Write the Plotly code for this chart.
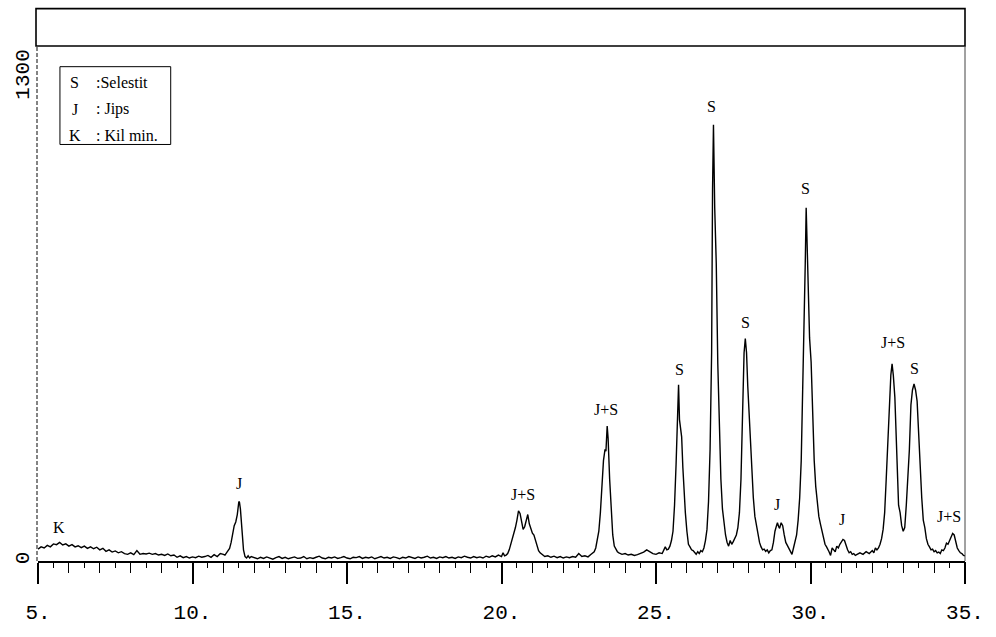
import plotly.graph_objects as go

# ---------------- data (2-theta, counts) ----------------
scan_05_11 = [
    (5.0, 32), (5.1, 38), (5.2, 35), (5.3, 42), (5.4, 38), (5.5, 46), (5.6, 44), (5.7, 50),
    (5.8, 43), (5.9, 46), (6.0, 40), (6.1, 44), (6.2, 38), (6.3, 41), (6.4, 36), (6.5, 40),
    (6.6, 34), (6.7, 38), (6.8, 33), (6.9, 37), (7.0, 30), (7.1, 34), (7.2, 26), (7.3, 30),
    (7.4, 24), (7.5, 27), (7.6, 22), (7.7, 25), (7.8, 20), (7.9, 18), (8.0, 22), (8.1, 17),
    (8.2, 28), (8.3, 18), (8.4, 20), (8.5, 19), (8.6, 21), (8.7, 18), (8.8, 20), (8.9, 16),
    (9.0, 18), (9.1, 15), (9.2, 19), (9.3, 14), (9.4, 16), (9.5, 10), (9.6, 14), (9.7, 9),
    (9.8, 12), (9.9, 8), (10.0, 11), (10.1, 9), (10.2, 13), (10.3, 10), (10.4, 12), (10.5, 15),
    (10.6, 10), (10.7, 17), (10.8, 12), (10.9, 20), (11.0, 18),
]
scan_11_12 = [
    (11.05, 16), (11.1, 22), (11.15, 28), (11.2, 34), (11.25, 50), (11.3, 72), (11.35, 95),
    (11.4, 105), (11.45, 125), (11.5, 160), (11.52, 158), (11.55, 140), (11.6, 90), (11.65, 30),
    (11.7, 12), (11.75, 8), (11.8, 14), (11.85, 8), (11.9, 12),
]
scan_12_20 = [
    (12.0, 9), (12.1, 6), (12.2, 10), (12.3, 7), (12.4, 11), (12.5, 8), (12.6, 5), (12.7, 9),
    (12.8, 12), (12.9, 7), (13.0, 10), (13.1, 6), (13.2, 9), (13.3, 11), (13.4, 7), (13.5, 8),
    (13.6, 12), (13.7, 6), (13.8, 9), (13.9, 7), (14.0, 10), (14.1, 13), (14.2, 8), (14.3, 6),
    (14.4, 10), (14.5, 8), (14.6, 11), (14.7, 7), (14.8, 9), (14.9, 12), (15.0, 8), (15.1, 6),
    (15.2, 10), (15.3, 9), (15.4, 12), (15.5, 7), (15.6, 10), (15.7, 8), (15.8, 11), (15.9, 6),
    (16.0, 9), (16.1, 12), (16.2, 8), (16.3, 10), (16.4, 7), (16.5, 11), (16.6, 9), (16.7, 6),
    (16.8, 10), (16.9, 8), (17.0, 12), (17.1, 9), (17.2, 7), (17.3, 11), (17.4, 8), (17.5, 10),
    (17.6, 13), (17.7, 8), (17.8, 10), (17.9, 7), (18.0, 11), (18.1, 9), (18.2, 12), (18.3, 8),
    (18.4, 10), (18.5, 7), (18.6, 11), (18.7, 9), (18.8, 13), (18.9, 10), (19.0, 8), (19.1, 12),
    (19.2, 9), (19.3, 11), (19.4, 8), (19.5, 13), (19.6, 10), (19.7, 14), (19.8, 11), (19.9, 16),
    (20.0, 12),
]
scan_20_23 = [
    (20.05, 22), (20.1, 14), (20.15, 16), (20.2, 20), (20.25, 30), (20.3, 45), (20.35, 55),
    (20.4, 70), (20.45, 90), (20.5, 110), (20.55, 135), (20.6, 128), (20.65, 100), (20.7, 85),
    (20.75, 92), (20.8, 110), (20.85, 125), (20.9, 100), (20.95, 85), (21.0, 75), (21.05, 70),
    (21.1, 55), (21.15, 38), (21.2, 28), (21.25, 22), (21.3, 18), (21.35, 15), (21.4, 12),
    (21.5, 14), (21.6, 10), (21.7, 13), (21.8, 9), (21.9, 12), (22.0, 8), (22.1, 11), (22.2, 9),
    (22.3, 12), (22.4, 10), (22.5, 20), (22.6, 12), (22.7, 14), (22.8, 11), (22.9, 18), (23.0, 25),
]
scan_23_26 = [
    (23.05, 35), (23.1, 55), (23.15, 80), (23.2, 130), (23.25, 200), (23.3, 270), (23.35, 300),
    (23.38, 295), (23.42, 363), (23.45, 330), (23.5, 220), (23.55, 130), (23.6, 70), (23.65, 40),
    (23.7, 30), (23.75, 25), (23.8, 22), (23.9, 18), (24.0, 20), (24.1, 16), (24.2, 18),
    (24.3, 15), (24.4, 17), (24.5, 20), (24.6, 24), (24.7, 30), (24.8, 25), (24.9, 20),
    (25.0, 18), (25.1, 22), (25.2, 20), (25.25, 28), (25.3, 38), (25.35, 30), (25.4, 32),
    (25.45, 40), (25.5, 55), (25.55, 80), (25.6, 150), (25.65, 260), (25.7, 400), (25.73, 474),
    (25.76, 380), (25.8, 340), (25.83, 334), (25.87, 250), (25.9, 190), (25.95, 130),
    (26.0, 80), (26.05, 45), (26.1, 38), (26.15, 30), (26.2, 28), (26.25, 22), (26.3, 18),
    (26.35, 25), (26.4, 20), (26.45, 28),
]
scan_26_29 = [
    (26.5, 25), (26.55, 35), (26.6, 55), (26.65, 85), (26.7, 160), (26.75, 300), (26.8, 560),
    (26.83, 1000), (26.86, 1173), (26.9, 950), (26.95, 800), (27.0, 530), (27.05, 330),
    (27.1, 220), (27.15, 140), (27.2, 100), (27.25, 70), (27.3, 50), (27.35, 40), (27.4, 55),
    (27.45, 45), (27.5, 52), (27.55, 60), (27.6, 70), (27.65, 90), (27.7, 130), (27.75, 220),
    (27.8, 420), (27.85, 560), (27.89, 598), (27.93, 560), (27.97, 470), (28.0, 420),
    (28.05, 320), (28.1, 240), (28.15, 170), (28.2, 120), (28.25, 95), (28.3, 70), (28.35, 50),
    (28.4, 38), (28.45, 30), (28.5, 32), (28.55, 26), (28.6, 30), (28.65, 22), (28.7, 28),
    (28.75, 30), (28.8, 50), (28.85, 80), (28.9, 95), (28.93, 103), (28.97, 92), (29.0, 88),
    (29.05, 103), (29.1, 95), (29.15, 70), (29.2, 50), (29.25, 42), (29.3, 35), (29.35, 28),
    (29.4, 18), (29.45, 35),
]
scan_29_32 = [
    (29.5, 50), (29.55, 70), (29.6, 110), (29.65, 170), (29.7, 270), (29.75, 450), (29.8, 680),
    (29.83, 800), (29.86, 950), (29.89, 840), (29.93, 700), (29.97, 600), (30.02, 535),
    (30.07, 400), (30.12, 270), (30.17, 200), (30.22, 150), (30.27, 120), (30.32, 100),
    (30.37, 80), (30.42, 60), (30.47, 45), (30.52, 38), (30.57, 32), (30.6, 25), (30.65, 15),
    (30.7, 35), (30.75, 30), (30.8, 25), (30.85, 40), (30.9, 35), (30.95, 45), (31.0, 50),
    (31.05, 58), (31.1, 55), (31.15, 40), (31.2, 30), (31.25, 22), (31.3, 25), (31.35, 18),
    (31.4, 20), (31.45, 15), (31.5, 18), (31.6, 22), (31.7, 18), (31.8, 25), (31.9, 20),
    (32.0, 28), (32.05, 22), (32.1, 35), (32.15, 30),
]
scan_32_35 = [
    (32.2, 35), (32.25, 45), (32.3, 60), (32.35, 85), (32.4, 130), (32.45, 220), (32.5, 320),
    (32.55, 420), (32.6, 500), (32.64, 530), (32.68, 500), (32.73, 440), (32.77, 340),
    (32.8, 270), (32.85, 150), (32.9, 130), (32.95, 95), (33.0, 80), (33.05, 90), (33.1, 150),
    (33.15, 230), (33.2, 300), (33.25, 420), (33.3, 460), (33.35, 476), (33.4, 460),
    (33.45, 430), (33.5, 330), (33.55, 260), (33.6, 170), (33.65, 110), (33.7, 90), (33.75, 60),
    (33.8, 45), (33.85, 38), (33.9, 30), (33.95, 32), (34.0, 25), (34.05, 28), (34.1, 22),
    (34.15, 24), (34.2, 20), (34.25, 30), (34.3, 28), (34.35, 35), (34.4, 48), (34.45, 45),
    (34.5, 55), (34.55, 62), (34.6, 74), (34.65, 70), (34.7, 50), (34.75, 35), (34.8, 28),
    (34.85, 22), (34.9, 20), (34.95, 15), (35.0, 14),
]

peak_labels = [
    (5.68, 90, "K"), (11.52, 209, "J"), (20.69, 180, "J+S"), (23.37, 408, "J+S"),
    (25.76, 514, "S"), (26.80, 1223, "S"), (27.89, 641, "S"), (28.93, 151, "J"),
    (29.83, 1001, "S"), (31.03, 111, "J"), (32.67, 588, "J+S"), (33.35, 519, "S"),
    (34.48, 119, "J+S"),
]

legend_symbols = ["S", "J", "K"]
legend_names = [":Selestit", ": Jips", ": Kil min."]

x_major_ticks = [5, 10, 15, 20, 25, 30, 35]
x_major_text = ["5.", "10.", "15.", "20.", "25.", "30.", "35."]
y_ticks = [0, 1300]
y_tick_text = ["0", "1300"]

# ---------------- figure ----------------
scan = scan_05_11 + scan_11_12 + scan_12_20 + scan_20_23 + scan_23_26 + scan_26_29 + scan_29_32 + scan_32_35
two_theta = [p[0] for p in scan]
counts = [p[1] for p in scan]

fig = go.Figure()
fig.add_trace(go.Scatter(x=two_theta, y=counts, mode="lines",
                         line=dict(color="black", width=1.4), hoverinfo="skip",
                         showlegend=False))
# helper trace for the integer tick axis
fig.add_trace(go.Scatter(x=[5, 35], y=[0, 0], xaxis="x2", mode="lines",
                         line=dict(color="rgba(0,0,0,0)"), hoverinfo="skip",
                         showlegend=False))

W, H = 996, 637
ML, MR, MT, MB = 37, 30, 46, 68
pw, ph = W - ML - MR, H - MT - MB

def px(xp):
    return (xp - ML) / pw

def py(yp):
    return (H - MB - yp) / ph

mono = "Liberation Mono"
serif = "Liberation Serif"

fig.update_layout(
    width=W, height=H, margin=dict(l=ML, r=MR, t=MT, b=MB),
    paper_bgcolor="white", plot_bgcolor="white",
    xaxis=dict(range=[5, 35], tickmode="array", tickvals=x_major_ticks, ticktext=x_major_text,
               ticks="outside", ticklen=21, tickwidth=1.5, tickcolor="black",
               showline=True, linecolor="black", linewidth=1.6, showgrid=False, zeroline=False,
               tickfont=dict(family=mono, size=21, color="black"), ticklabelstandoff=10,
               minor=dict(tickmode="linear", tick0=5, dtick=0.5, ticks="outside", ticklen=5,
                          tickwidth=1, tickcolor="black", showgrid=False)),
    xaxis2=dict(range=[5, 35], overlaying="x", anchor="y", side="bottom", tickmode="linear",
                tick0=5, dtick=1, ticks="outside", ticklen=11, tickwidth=1.2, tickcolor="black",
                showticklabels=False, showline=False, showgrid=False, zeroline=False),
    yaxis=dict(range=[0, 1385], tickmode="array", tickvals=y_ticks, ticktext=y_tick_text,
               tickangle=-90, ticks="", showline=False, showgrid=False, zeroline=False,
               tickfont=dict(family=mono, size=21, color="black"), ticklabelstandoff=4),
)

shapes = []
# header box above plot
shapes.append(dict(type="rect", xref="paper", yref="paper", x0=px(35), x1=px(966),
                   y0=py(46), y1=py(8), line=dict(color="black", width=1.6)))
# dashed left axis
shapes.append(dict(type="line", xref="paper", yref="paper", x0=px(36), x1=px(36),
                   y0=py(569), y1=py(46), line=dict(color="#333333", width=1.2, dash="4px,2px")))
# thin right edge line
shapes.append(dict(type="line", xref="paper", yref="paper", x0=px(966), x1=px(966),
                   y0=py(569), y1=py(46), line=dict(color="#444444", width=1)))
# legend box
shapes.append(dict(type="rect", xref="paper", yref="paper", x0=px(59), x1=px(170),
                   y0=py(146), y1=py(67), line=dict(color="black", width=1)))
fig.update_layout(shapes=shapes)

annotations = []
for (xv, yv, t) in peak_labels:
    annotations.append(dict(x=xv, y=yv, xref="x", yref="y", text=t, showarrow=False,
                            font=dict(family=serif, size=16, color="black"),
                            xanchor="center", yanchor="middle"))
leg_y = [83, 110, 137]
for i, (s, n) in enumerate(zip(legend_symbols, legend_names)):
    annotations.append(dict(x=px(74), y=py(leg_y[i]), xref="paper", yref="paper", text=s,
                            showarrow=False, font=dict(family=serif, size=16, color="black"),
                            xanchor="center", yanchor="middle"))
    annotations.append(dict(x=px(93), y=py(leg_y[i]), xref="paper", yref="paper", text=n,
                            showarrow=False, font=dict(family=serif, size=16, color="black"),
                            xanchor="left", yanchor="middle"))
fig.update_layout(annotations=annotations)

fig.write_html("out.html")
